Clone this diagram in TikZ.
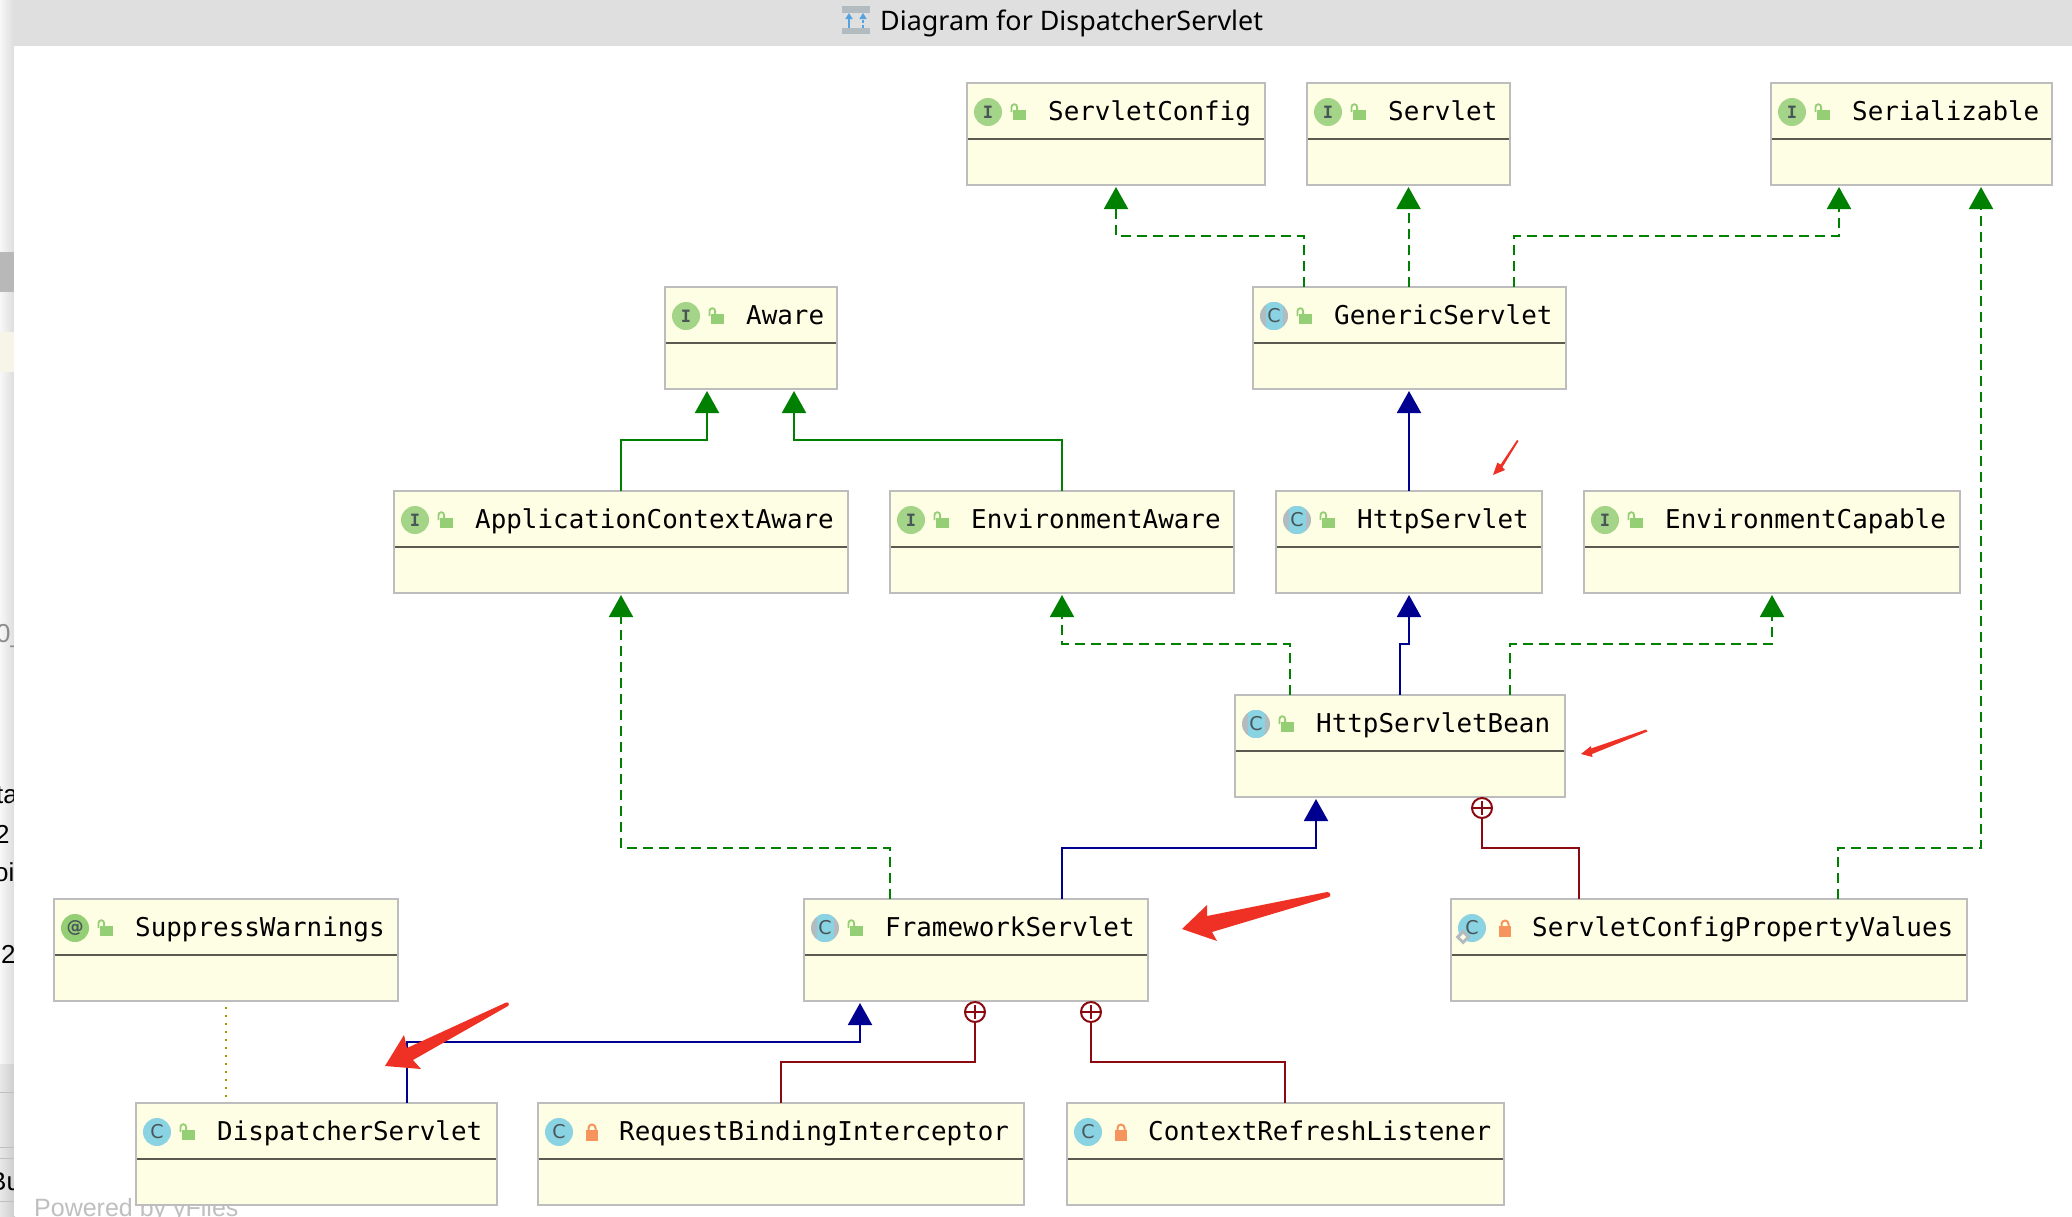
\documentclass[tikz,border=0pt]{standalone}
\usepackage{fontspec}
\usepackage{tikz}
\usetikzlibrary{arrows.meta}
\usetikzlibrary{shapes.geometric}
\newfontfamily\boxfont{DejaVu Sans Mono}
\newfontfamily\iconfont{DejaVu Sans}
\newfontfamily\titlefont{Noto Sans}
\newfontfamily\backfont{Liberation Sans}

\definecolor{realgreen}{HTML}{008000}
\definecolor{extblue}{HTML}{000090}
\definecolor{nestred}{HTML}{8B0A10}
\definecolor{markred}{HTML}{EE3124}
\definecolor{boxfill}{HTML}{FEFEE4}
\definecolor{boxline}{HTML}{BDBDBD}
\definecolor{sepline}{HTML}{5A5A50}
\definecolor{pubgreen}{HTML}{94CE75}
\definecolor{privorange}{HTML}{F5945C}
\definecolor{ifacegreen}{HTML}{A4D487}
\definecolor{classblue}{HTML}{8AD3E3}
\definecolor{absgrey}{HTML}{B2BBC0}
\definecolor{icondark}{HTML}{4A5558}

\tikzset{
	umlbox/.style={draw=boxline, fill=boxfill, line width=2pt, anchor=north west, minimum height=102pt, inner sep=0, outer sep=0},
	umlsep/.style={draw=sepline, line width=2pt},
	umltext/.style={anchor=base west, inner sep=0, font=\boxfont\fontsize{25.9}{30}\selectfont},
	icon/.style={circle, minimum size=28pt, inner sep=0, text=icondark, font=\iconfont\fontsize{19}{20}\selectfont},
	iface/.style={icon, fill=ifacegreen, font=\boxfont\bfseries\fontsize{17}{18}\selectfont},
	annot/.style={icon, fill=pubgreen, font=\iconfont\bfseries\fontsize{17}{18}\selectfont},
	cls/.style={icon, fill=classblue},
	abscls/.style={icon, fill=absgrey, path picture={\fill[classblue] ([xshift=-8.5pt,yshift=-15pt]path picture bounding box.center) rectangle ([xshift=8.5pt,yshift=15pt]path picture bounding box.center);}},
	staticmark/.style={diamond, draw=absgrey, fill=boxfill, line width=3pt, minimum size=12pt, inner sep=0},
	realize/.style={draw=realgreen, line width=2pt, dash pattern=on 10pt off 6pt, -{Triangle[width=24pt,length=22pt,fill=realgreen]}, shorten >=2pt},
	extgreen/.style={draw=realgreen, line width=2pt, -{Triangle[width=24pt,length=22pt,fill=realgreen]}, shorten >=2pt},
	extend/.style={draw=extblue, line width=2pt, -{Triangle[width=24pt,length=22pt,fill=extblue]}, shorten >=2pt},
	nesting/.style={draw=nestred, line width=2pt},
	nestmark/.style={circle, draw=nestred, fill=white, line width=2pt, minimum size=20pt, inner sep=0},
	backtext/.style={anchor=base west, inner sep=0, font=\backfont\fontsize{26}{30}\selectfont},
	markarrow/.style={fill=markred}
}

% public and private lock, relative to the box corner
\newcommand{\publock}{
	\fill[pubgreen] (46,27) rectangle (59,37);
	\draw[pubgreen, line width=1.8pt] (44.5,29) -- (44.5,24) arc[start angle=180, end angle=360, radius=2.8] -- (50.1,27);
}
\newcommand{\privlock}{
	\fill[privorange] (48,27) rectangle (60,38);
	\draw[privorange, line width=2pt] (50.5,28) -- (50.5,25) arc[start angle=180, end angle=360, radius=3.5] -- (57.5,28);
}
% name, left, top, width, icon style, icon letter, lock, text
\newcommand{\umlclass}[8]{
	\node[umlbox, minimum width=#4pt] (#1) at (#2,#3) {};
	\begin{scope}[shift={(#1.north west)}]
		\draw[umlsep] (1,56) -- (#4-1,56);
		\node[#5] (#1-icon) at (21,29) {#6};
		#7
		\node[umltext] (#1-text) at (81,37) {#8};
	\end{scope}
}

\begin{document}
\begin{tikzpicture}[x=1pt, y=-1pt]
	\useasboundingbox (0,0) rectangle (2072,1216);

	%window behind the diagram
	\fill[left color=black!3, right color=black!14] (0,0) rectangle (15,1064);
	\fill[left color=black!9, right color=black!20] (0,1064) rectangle (15,1216);
	\fill[black!28] (0,252) rectangle (15,292);
	\fill[yellow!60!black!10] (0,332) rectangle (15,372);
	\draw[black!25, line width=1pt] (0,1092) -- (15,1092) (0,1147) -- (15,1147) (0,1158) -- (15,1158) (0,1201) -- (15,1201);
	\node[backtext, text=black!45] (frag0) at (-4,642) {0\_};
	\node[backtext] (frag1) at (-4,803) {ta};
	\node[backtext] (frag2) at (-5,843) {2};
	\node[backtext] (frag3) at (-6,881) {oi};
	\node[backtext] (frag4) at (1,963) {2};
	\node[backtext] (frag5) at (-11,1190) {Bu};
	\fill[white] (14,46) rectangle (2072,1216);
	\fill[black!12.5] (14,0) rectangle (2072,46);

	%title bar
	\fill[absgrey] (842,6) rectangle (870,13);
	\fill[absgrey] (842,28) rectangle (870,34);
	\draw[cyan!70!blue!70, line width=1.5pt, -{Triangle[width=7pt,length=6pt]}] (849,28) -- (849,13);
	\draw[cyan!70!blue!70, line width=1.5pt, densely dashed, -{Triangle[width=7pt,length=6pt]}] (863,28) -- (863,13);
	\node[anchor=base west, inner sep=0, font=\titlefont\fontsize{26.9}{30}\selectfont] (title) at (880,30) {Diagram for DispatcherServlet};
	\node[anchor=base west, inner sep=0, text=black!25, font=\backfont\fontsize{25}{30}\selectfont] (yfiles) at (34,1216) {Powered by yFiles};

	%boxes
	\umlclass{config}{967}{83}{298}{iface}{I}{\publock}{ServletConfig}
	\umlclass{servlet}{1307}{83}{203}{iface}{I}{\publock}{Servlet}
	\umlclass{serial}{1771}{83}{281}{iface}{I}{\publock}{Serializable}
	\umlclass{aware}{665}{287}{172}{iface}{I}{\publock}{Aware}
	\umlclass{generic}{1253}{287}{313}{abscls}{C}{\publock}{GenericServlet}
	\umlclass{appaware}{394}{491}{454}{iface}{I}{\publock}{ApplicationContextAware}
	\umlclass{envaware}{890}{491}{344}{iface}{I}{\publock}{EnvironmentAware}
	\umlclass{http}{1276}{491}{266}{abscls}{C}{\publock}{HttpServlet}
	\umlclass{envcap}{1584}{491}{376}{iface}{I}{\publock}{EnvironmentCapable}
	\umlclass{bean}{1235}{695}{330}{abscls}{C}{\publock}{HttpServletBean}
	\umlclass{suppress}{54}{899}{344}{annot}{@}{\publock}{SuppressWarnings}
	\umlclass{framework}{804}{899}{344}{abscls}{C}{\publock}{FrameworkServlet}
	\umlclass{values}{1451}{899}{516}{cls}{C}{\privlock}{ServletConfigPropertyValues}
	\umlclass{dispatcher}{136}{1103}{361}{cls}{C}{\publock}{DispatcherServlet}
	\umlclass{binding}{538}{1103}{486}{cls}{C}{\privlock}{RequestBindingInterceptor}
	\umlclass{refresh}{1067}{1103}{437}{cls}{C}{\privlock}{ContextRefreshListener}
	\node[staticmark] (values-static) at (1463,937) {};

	%nesting marks
	\node[nestmark] (nest1) at (1482,808) {};
	\node[nestmark] (nest2) at (975,1012) {};
	\node[nestmark] (nest3) at (1091,1012) {};
	\foreach \n in {nest1,nest2,nest3}
		\draw[nestred, line width=1.6pt, shorten >=4pt, shorten <=4pt] (\n.west) -- (\n.east) (\n.north) -- (\n.south);

	%edges
	\draw[realize] ([xshift=51pt]generic.north west) -- ++(0,-51) -| (config.south);
	\draw[realize] ([xshift=-1pt]generic.north) -- ([xshift=-1pt]generic.north |- servlet.south);
	\draw[realize] ([xshift=261pt]generic.north west) -- ++(0,-51) -| ([xshift=68pt]serial.south west);
	\draw[realize] ([xshift=387pt]values.north west) -- ++(0,-51) -| ([xshift=210pt]serial.south west);
	\draw[extend] (http.north) -- (http.north |- generic.south);
	\draw[realize] ([xshift=55pt]bean.north west) -- ++(0,-51) -| (envaware.south);
	\draw[extend] (bean.north) -- ++(0,-51) -| (http.south);
	\draw[realize] ([xshift=275pt]bean.north west) -- ++(0,-51) -| (envcap.south);
	\draw[extgreen] (appaware.north) -- ++(0,-51) -| ([xshift=42pt]aware.south west);
	\draw[extgreen] (envaware.north) -- ++(0,-51) -| ([xshift=129pt]aware.south west);
	\draw[realize] ([xshift=86pt]framework.north west) -- ++(0,-51) -| (appaware.south);
	\draw[extend] ([xshift=258pt]framework.north west) -- ++(0,-51) -| ([xshift=81pt]bean.south west);
	\draw[nesting] ([xshift=128pt]values.north west) -- ++(0,-51) -| (nest1.south);
	\draw[extend] ([xshift=271pt]dispatcher.north west) -- ++(0,-61) -| ([xshift=56pt]framework.south west);
	\draw[nesting] (binding.north) -- ++(0,-41) -| (nest2.south);
	\draw[nesting] ([xshift=218pt]refresh.north west) -- ++(0,-41) -| (nest3.south);
	\draw[draw=olive!85!yellow, line width=2pt, dash pattern=on 2pt off 6pt, shorten >=5pt, shorten <=6pt] (suppress.south) -- (suppress.south |- dispatcher.north);

	%red marks
	\fill[markarrow] (1182,929) -- (1207,905) -- (1207,916) -- (1327,892) .. controls (1331,892) and (1331,896) .. (1329,897) -- (1212,932) -- (1217,941) -- cycle;
	\fill[markarrow] (1581,754) -- (1591,746) -- (1591,748.5) -- (1646,729.5) -- (1647.5,731.5) -- (1592,754) -- (1592.5,757) -- cycle;
	\fill[markarrow] (385,1066) -- (404,1035) -- (407,1048) -- (505,1003) .. controls (508,1001) and (510,1004) .. (508,1006) -- (413,1060) -- (421,1069) -- cycle;
	\fill[markarrow] (1493,475) -- (1497.3,462.7) -- (1500.7,464.5) -- (1517,440) -- (1518.5,441) -- (1502.3,467.3) -- (1505,470) -- cycle;
\end{tikzpicture}
\end{document}
